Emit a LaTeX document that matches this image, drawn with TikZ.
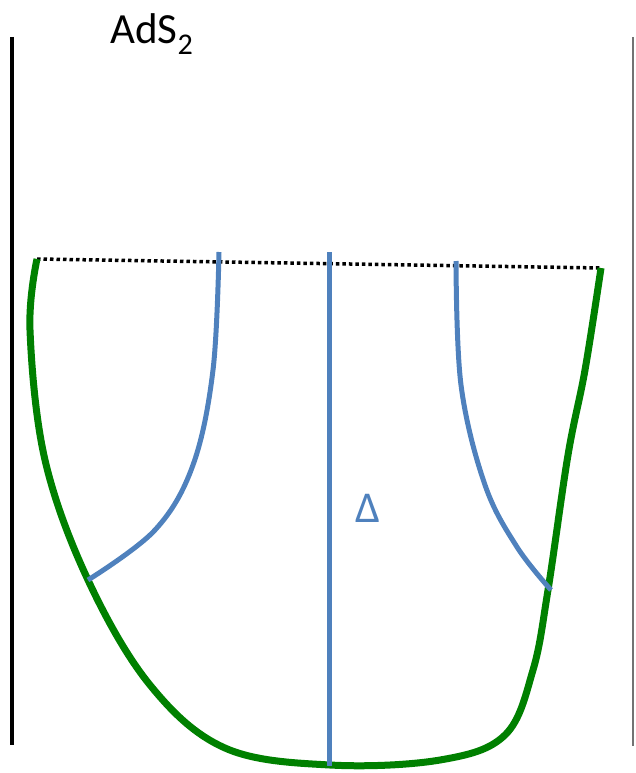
\documentclass[tikz,border=0pt]{standalone}
\usepackage{fontspec}
\setmainfont{Carlito}
\definecolor{myblue}{RGB}{79,129,189}
\definecolor{mygreen}{RGB}{0,128,0}
\begin{document}
\begin{tikzpicture}[x=1pt,y=-1pt,
  wall/.style={line width=4.5pt,black},
  graywall/.style={line width=2pt,black!55},
  geo/.style={line width=5pt,myblue},
  bdry/.style={line width=7pt,mygreen,line join=round},
  cut/.style={line width=3.5pt,black,dash pattern=on 3.5pt off 3pt}]
\useasboundingbox (0,0) rectangle (635,773);
\draw[wall] (12,37) -- (12,745);
\draw[graywall] (633,37) -- (633,746);
\node[font=\fontsize{43}{47}\selectfont,anchor=base] (ads) at (152,44) {AdS\textsubscript{2}};
\coordinate (L) at (37,259);
\coordinate (R) at (601,268);
\draw[cut] (L) -- (R);
\draw[bdry] plot[smooth,tension=0.6] coordinates {(37,259) (30,330) (45,460) (88,580) (150,685) (225,748) (330,765) (440,760) (505,735) (533,670) (548,590) (568,455) (585,370) (601,268)};
\draw[geo] plot[smooth,tension=0.6] coordinates {(219,252) (213,370) (193,465) (155,530) (88,580)};
\draw[geo] (329,252) -- (329,766);
\draw[geo] plot[smooth,tension=0.6] coordinates {(456,261) (461,385) (485,485) (517,547) (551,590)};
\node[text=myblue,font=\fontsize{44}{48}\selectfont] (delta) at (368,508) {Δ};
\end{tikzpicture}
\end{document}
